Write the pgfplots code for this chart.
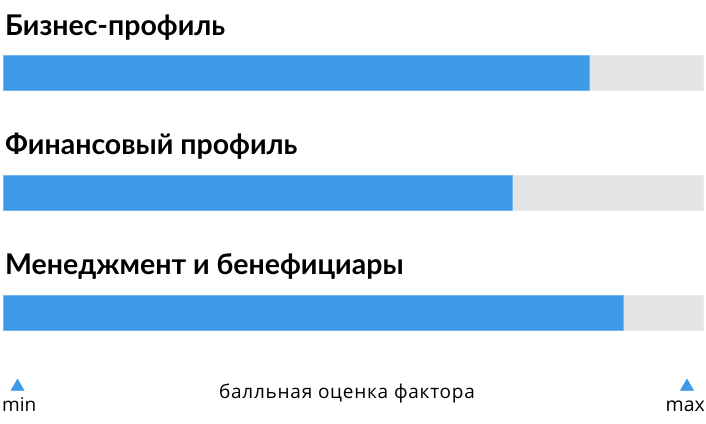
\documentclass[border=0pt]{standalone}
\usepackage{fontspec}
\setmainfont{Open Sans}
\newfontfamily\labfont{Lato}
\newfontfamily\spacedfont{Open Sans}[LetterSpace=4]
\usepackage{pgfplots}
\pgfplotsset{compat=1.18}
\definecolor{barblue}{HTML}{3D9AE8}
\definecolor{barblueedge}{HTML}{78B6EE}
\definecolor{barbg}{HTML}{E4E4E4}
\definecolor{barbgedge}{HTML}{EBEBEB}
\begin{document}
\begin{tikzpicture}
\begin{axis}[
  scale only axis, width=706pt, height=423pt,
  xmin=-0.004712, xmax=1.003284,
  ymin=-0.60708, ymax=2.91792,
  y dir=reverse, hide axis, clip=false,
]
\path (rel axis cs:0,0) rectangle (rel axis cs:1,1);
\addplot[xbar, bar width=35.7pt, bar shift=0pt, fill=barbg, draw=barbgedge, line width=0.8pt]
  coordinates {(1,0) (1,1) (1,2)};
\addplot[xbar, bar width=35.7pt, bar shift=0pt, fill=barblue, draw=barblueedge, line width=0.8pt]
  coordinates {(0.837,0) (0.727,1) (0.886,2)};
\addplot[only marks, mark=triangle*, mark size=7.7pt, color=barblue]
  coordinates {(0.0203,2.615) (0.9761,2.615)};
\node[anchor=base west, inner sep=0pt] at (axis cs:0.0024,-0.3154) {\labfont\bfseries\fontsize{28.5}{32}\selectfont Бизнес-профиль};
\node[anchor=base west, inner sep=0pt] at (axis cs:0.0024,0.684) {\labfont\bfseries\fontsize{28.5}{32}\selectfont Финансовый профиль};
\node[anchor=base west, inner sep=0pt] at (axis cs:0.0024,1.680) {\labfont\bfseries\fontsize{28.5}{32}\selectfont Менеджмент и бенефициары};
\node[anchor=base, inner sep=0pt] at (axis cs:0.4907,2.712) {\spacedfont\fontsize{19}{22}\selectfont балльная оценка фактора};
\node[anchor=base west, inner sep=0pt] at (axis cs:-0.0019,2.824) {\fontsize{19}{24}\selectfont min};
\node[anchor=base east, inner sep=0pt] at (axis cs:1.0019,2.824) {\fontsize{19.5}{24}\selectfont max};
\end{axis}
\end{tikzpicture}
\end{document}
